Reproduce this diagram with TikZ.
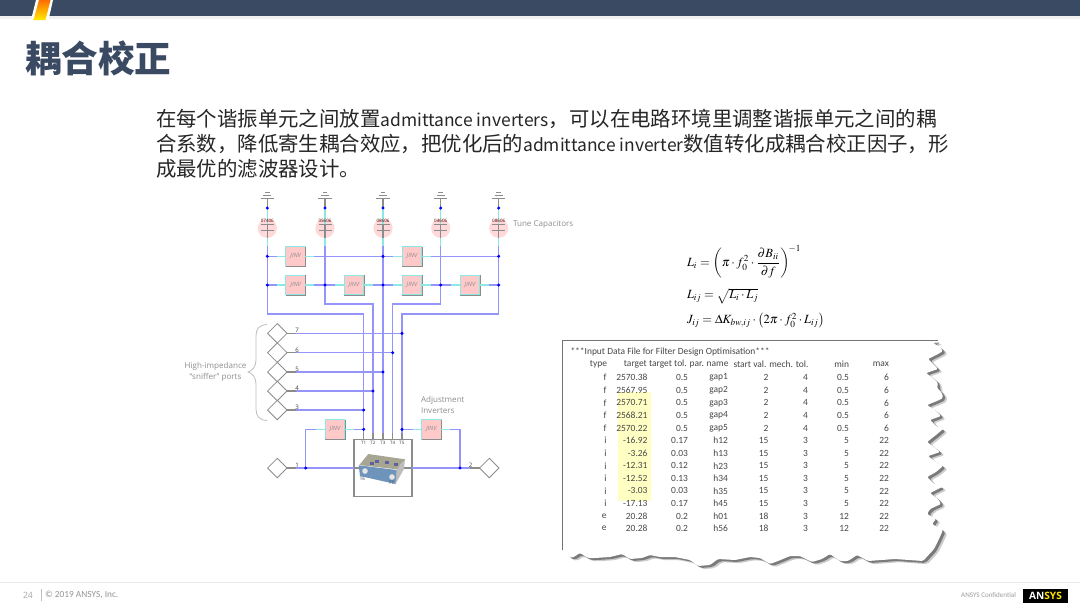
\documentclass[tikz,border=0pt]{standalone}
\usepackage{amsmath}
\usepackage{mathptmx}
\usepackage{fontspec}
\setmainfont{Open Sans}
\newfontfamily\cjkfont{Noto Sans CJK SC}
\newfontfamily\tablefont{Carlito}
\newcommand{\latinpart}[1]{{\fontsize{13.1}{18.75}\selectfont #1}}
\usetikzlibrary{shapes.geometric}
\definecolor{navy}{HTML}{3B4A63}
\definecolor{wireblue}{HTML}{9494FB}
\definecolor{wirecyan}{HTML}{8CE8E2}
\definecolor{partgray}{HTML}{8C8C8C}
\definecolor{notegray}{HTML}{8F8F8F}
\definecolor{jinvpink}{HTML}{FFC9C9}
\definecolor{cappink}{HTML}{FFD9D9}
\definecolor{markyellow}{HTML}{FFFFC4}
\definecolor{blocktop}{HTML}{A6A693}
\definecolor{blockfront}{HTML}{6F94BC}
\definecolor{blockside}{HTML}{BDBDBD}
\tikzset{
  wire/.style={draw=wireblue, line width=1.15pt},
  cyanwire/.style={draw=wirecyan, line width=1.15pt},
  part/.style={draw=partgray, line width=0.8pt},
  jinv/.style={draw=wirecyan, fill=jinvpink, line width=0.75pt, minimum size=14.6pt,
    font=\fontsize{4.4}{5}\selectfont\itshape, text=partgray},
  capcirc/.style={circle, fill=cappink, minimum size=14.4pt},
  port/.style={diamond, draw=partgray, fill=white, line width=0.6pt, minimum size=14.6pt},
  note/.style={text=notegray, font=\fontsize{6.05}{8.2}\selectfont, align=left},
  tiny/.style={text=black!75, font=\fontsize{3.4}{4}\selectfont},
  cell/.style={anchor=east, text=black!72, font=\tablefont\fontsize{7.1}{8}\selectfont},
  eqn/.style={anchor=west, font=\fontsize{9.4}{11}\selectfont}
}
\def\paperoutline{(562.3,340.7) -- (938,340.7) -- (933,343) -- (940,347) -- (943,351) -- (938,354)
  -- (928,359) -- (933,364) -- (938,369) -- (926,373) -- (933,378) -- (938,383) -- (937,388) -- (942,393)
  -- (943,398) -- (937,401) -- (927,405) -- (935,410) -- (941,416) -- (930,420) -- (936,426)
  -- (943,429) -- (936,435) -- (927,442) -- (934,447) -- (940,452) -- (928,456) -- (936,462)
  -- (943,466) -- (936,472) -- (927,477) -- (933,483) -- (942,487) -- (930,493) -- (938,499)
  -- (941,504) -- (930,509) -- (927,514) -- (936,519) -- (932,524) -- (943,530) -- (938,541)
  -- (934,549) -- (923,561) -- (895,559) -- (868,561) -- (857,555) -- (848,561) -- (840,561)
  -- (830,554) -- (822,559) -- (812,562) -- (800,556) -- (790,556) -- (778,561) -- (770,564)
  -- (760,558) -- (750,557) -- (735,560) -- (718,559) -- (710,565) -- (698,566) -- (690,560)
  -- (675,557) -- (660,557) -- (650,555) -- (642,558) -- (630,559) -- (622,554) -- (610,557)
  -- (595,558) -- (588,558) -- (580,553) -- (572,558) -- (568,556) -- (562.3,550) -- cycle}
\begin{document}
\begin{tikzpicture}[x=0.75pt, y=0.75pt, yscale=-1, inner sep=0pt, outer sep=0pt]
  \useasboundingbox[fill=white] (0,0) rectangle (1080,608);
  \fill[black!6] (0,16) rectangle (1080,19);
  \fill[navy] (0,0) rectangle (1080,16);
  \fill[white] (36,0) -- (53,0) -- (48.5,20) -- (31,20) -- cycle;
  \shade[top color=orange!85!red, bottom color=yellow!85!orange] (39,0) -- (50.5,0) -- (45.5,20) -- (33.5,20) -- cycle;
  \node[anchor=west, text=navy, font=\cjkfont\bfseries\fontsize{27.4}{30}\selectfont] (title) at (25,58) {耦合校正};
  \node[anchor=north west, align=left, text=black!85, font=\cjkfont\fontsize{15.3}{18.75}\selectfont] (intro) at (156,109.5)
    {在每个谐振单元之间放置\latinpart{admittance inverters}，可以在电路环境里调整谐振单元之间的耦\\
     合系数，降低寄生耦合效应，把优化后的\latinpart{admittance inverter}数值转化成耦合校正因子，形\\
     成最优的滤波器设计。};

  % tune capacitors
  \foreach \c/\x/\capval in {1/267.3/07406,2/325/05606,3/383/08606,4/440.7/04606,5/498.7/08606}{
    \node[capcirc] (cap\c) at (\x,228.3) {};
    \coordinate (gnd\c) at (\x,198.3);
    \coordinate (top\c) at (\x,208);
    \coordinate (low\c) at (\x,246);
    \draw[cyanwire] (top\c) -- (low\c);
    \draw[part] (gnd\c) -- (top\c);
    \draw[part] (\x,224.3) -- (\x,238);
    \draw[part] (\x-6.7,198.3) -- (\x+6.7,198.3) (\x-4,195.4) -- (\x+4,195.4) (\x-2.4,192.4) -- (\x+2.4,192.4);
    \draw[part, line width=0.55pt] (\x-6.5,224.3) -- (\x+6.5,224.3) (\x-6.5,230) -- (\x+6.5,230);
    \node[tiny, text=red!35!black] (val\c) at (\x,221) {\capval};
  }
  \node[note, anchor=west] (tunelabel) at (513,225) {Tune Capacitors};

  \foreach \c/\x in {1/267.3,3/383,5/498.7}{
    \coordinate (a\c) at (\x,256.3);
  }
  \foreach \c/\x in {1/267.3,2/325,3/383,4/440.7,5/498.7}{
    \coordinate (b\c) at (\x,285);
  }
  \foreach \n/\x/\y in {a12/295.7/256.3,a34/412/256.3,b12/295.7/285,b23/354/285,b34/412/285,b45/470/285,
      adjl/335/429.3,adjr/431.3/429.3}{
    \node[jinv] (inv\n) at (\x,\y) {JINV};
    \fill[partgray] (inv\n.south west) rectangle ([shift={(0,1.2)}]inv\n.south east);
    \fill[partgray] (inv\n.north east) rectangle ([shift={(0.9,1.2)}]inv\n.south east);
  }

  % block
  \node[draw=partgray, fill=white, line width=0.85pt, minimum width=43.5pt, minimum height=43pt] (block) at (383,468) {};
  \foreach \c/\x in {1/363.7,2/373,3/383,4/392.7,5/402}{
    \coordinate (pin\c) at (\x,439.3);
    \node[tiny] (tlab\c) at (\x,442.5) {T\c};
  }

  % ports
  \foreach \c/\y/\pinx in {7/333.3/402,6/352.7/392.7,5/372/383,4/391/373,3/410/363.7}{
    \node[port] (port\c) at (277.3,\y) {};
    \coordinate (stub\c) at (296,\y);
    \coordinate (sn\c) at (\pinx,\y);
    \draw[wire] (stub\c) -- (sn\c);
    \draw[part] (port\c) -- (stub\c);
    \node[tiny, font=\fontsize{4.6}{5}\selectfont] (plab\c) at (297,\y-2.6) {\c};
  }
  \node[port] (port1) at (277.3,468) {};
  \node[port] (port2) at (489.3,468) {};
  \coordinate (p1r) at (305.7,468);
  \coordinate (p2l) at (460,468);
  \coordinate (adjl) at (363.7,429.3);
  \coordinate (adjr) at (402,429.3);
  \draw[wire] (port1) -- (block);
  \draw[wire] (block) -- (p2l);
  \draw[wire] (p2l) -- (port2);
  \draw[part] (port1) -- ++(19,0);
  \draw[part] (port2) -- ++(-19,0);
  \draw[part] (block) -- ++(-10,0);
  \draw[part] (block) -- ++(10,0);
  \node[tiny, font=\fontsize{4.6}{5}\selectfont] (plab1) at (297,465.4) {1};
  \node[tiny, font=\fontsize{4.6}{5}\selectfont] (plab2) at (470.7,465.4) {2};

  % inverter rows
  \draw[wire] (a1) -- (inva12);
  \draw[wire] (inva12) -- (a3);
  \draw[wire] (a3) -- (inva34);
  \draw[wire] (inva34) -- (a5);
  \draw[wire] (b1) -- (invb12);
  \draw[wire] (invb12) -- (b2);
  \draw[wire] (b2) -- (invb23);
  \draw[wire] (invb23) -- (b3);
  \draw[wire] (b3) -- (invb34);
  \draw[wire] (invb34) -- (b4);
  \draw[wire] (b4) -- (invb45);
  \draw[wire] (invb45) -- (b5);

  % risers
  \coordinate (turn1) at (363.7,314);
  \coordinate (turn2) at (373,304);
  \coordinate (turn4) at (392.7,304);
  \coordinate (turn5) at (402,314);
  \draw[wire] (low1) |- (turn1) -- (pin1);
  \draw[wire] (low2) |- (turn2) -- (pin2);
  \draw[wire] (low3) -- (pin3);
  \draw[wire] (low4) |- (turn4) -- (pin4);
  \draw[wire] (low5) |- (turn5) -- (pin5);
  \foreach \c in {1,2,3,4,5}{
    \draw[part] (pin\c) -- ++(0,-6);
  }

  % adjustment inverters
  \draw[wire] (p1r) |- (invadjl);
  \draw[wire] (invadjl) -- (adjl);
  \draw[wire] (adjr) -- (invadjr);
  \draw[wire] (invadjr) -| (p2l);
  \foreach \n in {a12,a34,b12,b23,b34,b45,adjl,adjr}{
    \draw[cyanwire] (inv\n.west) -- ++(-9,0);
    \draw[cyanwire] (inv\n.east) -- ++(9,0);
  }
  \foreach \j in {top1,top2,top3,top4,top5,a1,a3,a5,b1,b2,b3,b4,b5,sn7,sn6,sn5,sn4,sn3,adjl,adjr,p1r,p2l}{
    \fill[blue] (\j) circle (1.7);
  }

  % block picture
  \fill[blocktop] (368.3,454) -- (405,459.3) -- (396.7,469.3) -- (359.3,465) -- cycle;
  \fill[blockside] (396.7,469.3) -- (405,459.3) -- (404,469) -- (395.5,484) -- cycle;
  \fill[blockfront] (358.7,465.3) -- (396.7,470) -- (395.5,484) -- (360,476) -- cycle;
  \foreach \x/\y in {365/471,392/477}{
    \fill[white!80!gray] (\x,\y) circle (2.8);
  }
  \foreach \x/\y in {375/460,385/461,394/463,370/462}{
    \fill[blue!25!gray] (\x,\y) rectangle ++(4,3);
  }
  \node[tiny] (tlab6) at (362.5,478.5) {T6};
  \node[tiny] (tlab7) at (391.5,483) {T7};

  % labels of the network
  \draw[draw=black!25, line width=0.6pt] (267,324.5) .. controls (259,325) and (256,329) .. (256,336) -- (256,360)
    .. controls (256,367) and (252,371) .. (248,372) .. controls (252,373) and (256,377) .. (256,384) -- (256,409)
    .. controls (256,416) and (259,420) .. (267,420.5);
  \node[note, align=center] (snifflabel) at (215.5,371.5) {High-impedance\\``sniffer'' ports};
  \node[note, anchor=west] (adjlabel) at (421,404.5) {Adjustment\\Inverters};

  % equations
  \node[eqn] (eqna) at (687,262) {$L_i=\left(\pi\cdot f_0^2\cdot\dfrac{\partial B_{ii}}{\partial f}\right)^{\!-1}$};
  \node[eqn] (eqnb) at (687,296) {$L_{ij}=\sqrt{L_i\cdot L_j}$};
  \node[eqn] (eqnc) at (687,320.5) {$J_{ij}=\Delta K_{bw,ij}\cdot\left(2\pi\cdot f_0^2\cdot L_{ij}\right)$};

  % data file
  \fill[black, opacity=0.2, rounded corners=1.5pt, shift={(4.5,3.2)}] \paperoutline;
  \fill[black, opacity=0.4, rounded corners=1.5pt, shift={(2.6,2)}] \paperoutline;
  \fill[white, rounded corners=1pt] \paperoutline;
  \draw[draw=black!55, line width=0.75pt] (562.3,550) -- (562.3,340.7) -- (938,340.7);
  \fill[markyellow] (618.3,391.7) rectangle (650.7,500.7);
  \node[cell, anchor=west] (datatitle) at (570.5,352) {***Input Data File for Filter Design Optimisation***};
  \node[cell] (headtype) at (607,364.3) {type};
  \node[cell] (headmid) at (728.5,364.3) {target target tol. par. name};
  \node[cell] (headstart) at (808.5,364.3) {start val. mech. tol.};
  \node[cell] (headmin) at (849,364.3) {min};
  \node[cell] (headmax) at (889,364.3) {max};
  \foreach \vtype/\vtarget/\vtol/\vname/\vstart/\vmech/\vmin/\vmax [count=\r] in {
    f/2570.38/0.5/gap1/2/4/0.5/6, f/2567.95/0.5/gap2/2/4/0.5/6, f/2570.71/0.5/gap3/2/4/0.5/6,
    f/2568.21/0.5/gap4/2/4/0.5/6, f/2570.22/0.5/gap5/2/4/0.5/6, i/-16.92/0.17/h12/15/3/5/22,
    i/-3.26/0.03/h13/15/3/5/22, i/-12.31/0.12/h23/15/3/5/22, i/-12.52/0.13/h34/15/3/5/22,
    i/-3.03/0.03/h35/15/3/5/22, i/-17.13/0.17/h45/15/3/5/22, e/20.28/0.2/h01/18/3/12/22,
    e/20.28/0.2/h56/18/3/12/22}{
    \pgfmathsetmacro\ry{377.7+12.58*(\r-1)}
    \node[cell] (type\r) at (606.5,\ry) {\vtype};
    \node[cell] (target\r) at (647.5,\ry) {\vtarget};
    \node[cell] (tol\r) at (688,\ry) {\vtol};
    \node[cell] (name\r) at (728,\ry) {\vname};
    \node[cell] (start\r) at (768.5,\ry) {\vstart};
    \node[cell] (mech\r) at (808,\ry) {\vmech};
    \node[cell] (min\r) at (849,\ry) {\vmin};
    \node[cell] (max\r) at (889,\ry) {\vmax};
  }

  % footer
  \draw[black!8, line width=0.75pt] (0,582.5) -- (1080,582.5);
  \draw[black!25, line width=0.5pt] (41.5,589) -- (41.5,601);
  \node[anchor=west, text=black!35, font=\fontsize{6.5}{8}\selectfont] (pagenum) at (23,595) {24};
  \node[anchor=west, text=black!42, font=\tablefont\fontsize{7}{8}\selectfont] (copyline) at (45,595) {© 2019 ANSYS, Inc.};
  \node[anchor=east, text=black!38, font=\tablefont\fontsize{5.3}{8}\selectfont] (conf) at (1016,595.5) {ANSYS Confidential};
  \node[fill=black, minimum width=33.5pt, minimum height=10.5pt, font=\bfseries\fontsize{7.6}{8}\selectfont] (logo) at (1045.5,596)
    {\textcolor{white}{AN}\textcolor{yellow!85!orange}{SYS}};
\end{tikzpicture}
\end{document}
